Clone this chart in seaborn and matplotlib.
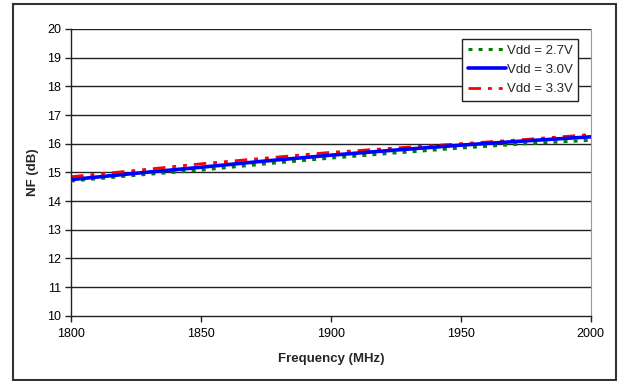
import pandas as pd
import numpy as np
import matplotlib
matplotlib.use('Agg')
import matplotlib.pyplot as plt
import seaborn as sns
from matplotlib.patches import Rectangle

# data
freq = [1800, 1825, 1850, 1875, 1900, 1925, 1950, 1975, 2000]
nf_27 = [14.70, 14.90, 15.08, 15.30, 15.50, 15.68, 15.85, 16.00, 16.12]
nf_30 = [14.75, 14.97, 15.18, 15.40, 15.60, 15.78, 15.95, 16.10, 16.24]
nf_33 = [14.85, 15.07, 15.30, 15.50, 15.70, 15.85, 16.00, 16.15, 16.32]
labels = ['Vdd = 2.7V', 'Vdd = 3.0V', 'Vdd = 3.3V']

df = pd.DataFrame({'freq': freq, labels[0]: nf_27, labels[1]: nf_30, labels[2]: nf_33})

sns.set_style('white')
plt.rcParams['font.family'] = ['Liberation Sans', 'DejaVu Sans']

fig = plt.figure(figsize=(6.18, 3.81), dpi=100)
ax = fig.add_axes([0.115, 0.171, 0.841, 0.753])

# horizontal grid lines
for v in range(11, 21):
    ax.axhline(v, color='#222222', lw=1.0, zorder=1)

sns.lineplot(data=df, x='freq', y=labels[0], ax=ax, color='#008000', lw=2.2,
             linestyle=(0, (1.3, 2.0)), label=labels[0], zorder=3)
sns.lineplot(data=df, x='freq', y=labels[1], ax=ax, color='#0000ff', lw=2.6,
             linestyle='-', label=labels[1], zorder=4)
sns.lineplot(data=df, x='freq', y=labels[2], ax=ax, color='#ff0000', lw=2.0,
             linestyle=(0, (4.5, 2.5, 1.4, 2.5, 1.4, 2.5)), label=labels[2], zorder=2)

ax.set_xlim(1800, 2000)
ax.set_ylim(10, 20)
ax.set_xticks([1800, 1850, 1900, 1950, 2000])
ax.set_yticks(range(10, 21))
ax.tick_params(axis='both', direction='out', length=4, width=1, colors='#222222',
               labelsize=9, labelcolor='black', bottom=True, left=True)
ax.tick_params(axis='x', pad=5)
ax.tick_params(axis='y', pad=3)

for s in ['left', 'bottom']:
    ax.spines[s].set_color('#222222')
    ax.spines[s].set_linewidth(1.0)
ax.spines['right'].set_color('#999999')
ax.spines['top'].set_visible(False)

ax.set_xlabel('Frequency (MHz)', fontsize=9.5, fontweight='bold', labelpad=9)
ax.set_ylabel('NF (dB)', fontsize=9.5, fontweight='bold', labelpad=6)

leg = ax.legend(loc='upper right', bbox_to_anchor=(0.975, 0.965), fontsize=9.5,
                frameon=True, fancybox=False, handlelength=2.9, handletextpad=0.05,
                borderpad=0.4, labelspacing=0.55, borderaxespad=0)
leg.get_frame().set_edgecolor('#222222')
leg.get_frame().set_linewidth(1.0)
leg.get_frame().set_alpha(1)

# outer chart border
fig.patches.append(Rectangle((0.021, 0.003), 0.976, 0.987, transform=fig.transFigure,
                             fill=False, edgecolor='#333333', lw=1.5))

fig.savefig('out.png', dpi=100)
